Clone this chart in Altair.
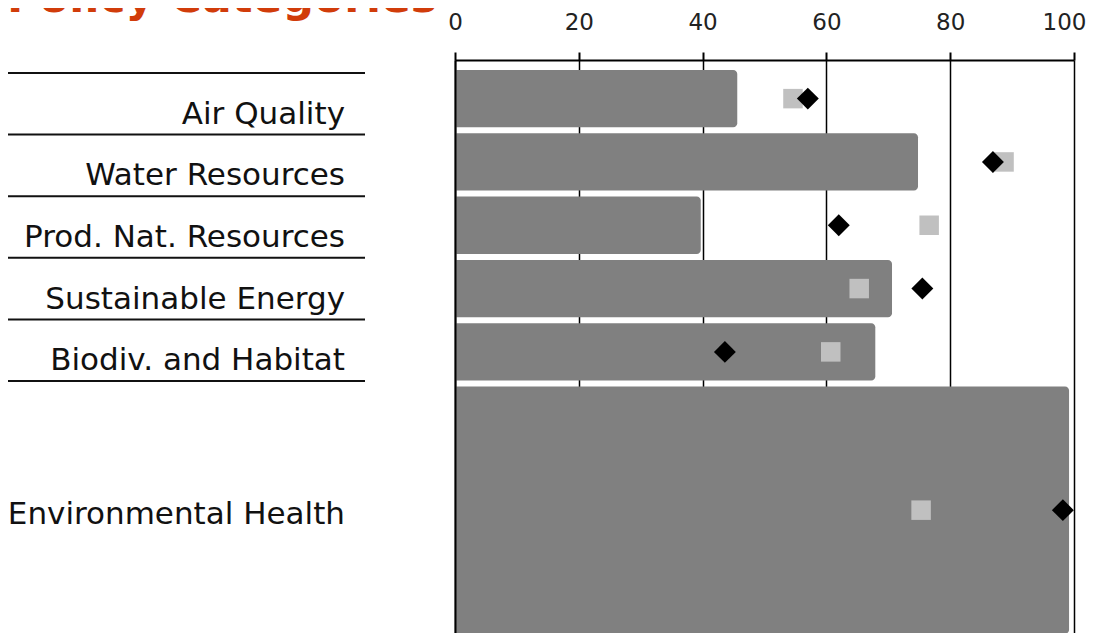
import altair as alt
import pandas as pd

# ---- data ----
categories = ["Air Quality", "Water Resources", "Prod. Nat. Resources",
              "Sustainable Energy", "Biodiv. and Habitat", "Environmental Health"]
weights = [10, 10, 10, 10, 10, 40]
bar_values = [45.6, 74.8, 39.7, 70.6, 67.9, 99.2]
square_values = [54.6, 88.7, 76.6, 65.3, 60.7, 75.3]
diamond_values = [57.0, 86.9, 62.0, 75.5, 43.6, 98.2]
x_ticks = [0, 20, 40, 60, 80, 100]
title_text = "Policy Categories"

df = pd.DataFrame({
    "category": categories,
    "weight": weights,
    "bar": bar_values,
    "square": square_values,
    "diamond": diamond_values,
})
df["end"] = df["weight"].cumsum()
df["start"] = df["end"] - df["weight"]
df["mid"] = (df["start"] + df["end"]) / 2

W, H = 619, 573
FONT = "DejaVu Sans"

ybar = alt.Scale(domain=[-1.1, 89.4], reverse=True, nice=False, zero=False)
ylab = alt.Scale(domain=[-2.11, 90.9], reverse=True, nice=False, zero=False)

xaxis = alt.Axis(orient="top", values=x_ticks, title=None, labelFlush=False,
                 tickSize=8, tickWidth=2, tickColor="black",
                 domainColor="black", domainWidth=2,
                 grid=True, gridColor="black", gridWidth=1.5,
                 labelFont=FONT, labelFontSize=23, labelColor="#222",
                 labelPadding=18,
                 labelOffset={"condition": {"test": "datum.value == 100", "value": -10},
                              "value": 0})
yaxis = alt.Axis(orient="left", labels=False, ticks=False, grid=False, title=None,
                 domain=True, domainColor="black", domainWidth=2, zindex=1)

base = alt.Chart(df)

bars = base.mark_bar(color="#808080", yOffset=3, y2Offset=-3,
                     cornerRadiusTopRight=4, cornerRadiusBottomRight=4).encode(
    x=alt.X("bar:Q", scale=alt.Scale(domain=[0, 100], nice=False), axis=xaxis),
    x2=alt.datum(0),
    y=alt.Y("start:Q", scale=ybar, axis=yaxis),
    y2="end:Q",
)
squares = base.mark_point(shape="square", filled=True, size=380,
                          color="#C0C0C0", opacity=1).encode(
    x="square:Q",
    y=alt.Y("mid:Q", scale=ybar),
)
diamonds = base.mark_point(shape="diamond", filled=True, size=480,
                           color="black", opacity=1).encode(
    x="diamond:Q",
    y=alt.Y("mid:Q", scale=ybar),
)

rules = base.mark_rule(color="#111", strokeWidth=2).encode(
    y=alt.Y("start:Q", scale=ylab, axis=None),
    x=alt.value(-450),
    x2=alt.value(-90),
)
labels = base.mark_text(align="right", baseline="middle", dy=11, font=FONT,
                        fontSize=31, color="#111").encode(
    y=alt.Y("mid:Q", scale=ylab, axis=None),
    x=alt.value(-110),
    text="category:N",
)
title = alt.Chart(pd.DataFrame({"t": [title_text]})).mark_text(
    align="right", baseline="alphabetic", font=FONT, fontWeight="bold",
    fontSize=44, color="#D13C0A").encode(
    x=alt.value(-18),
    y=alt.value(-48),
    text="t:N",
)

chart = alt.layer(
    alt.layer(bars, squares, diamonds),
    alt.layer(rules, labels, title),
).resolve_scale(y="independent").properties(
    width=W, height=H,
    autosize=alt.AutoSizeParams(type="none"),
    padding={"left": 447, "top": 52, "right": 14, "bottom": 0},
).configure_view(stroke=None)

chart.save("out.html", embed_options={"renderer": "svg", "actions": False})
